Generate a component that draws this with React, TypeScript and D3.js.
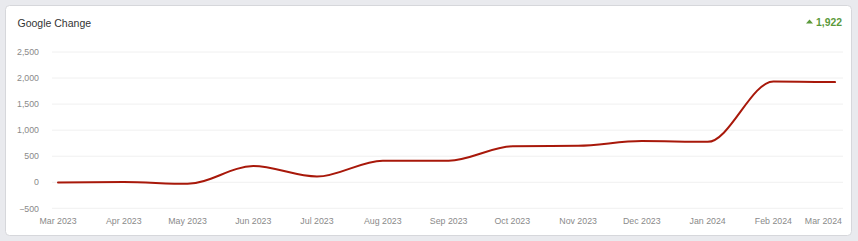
import React from "react";
import * as d3 from "d3";

const months = [
  "2023-03-01", "2023-04-01", "2023-05-01", "2023-06-01", "2023-07-01", "2023-08-01",
  "2023-09-01", "2023-10-01", "2023-11-01", "2023-12-01", "2024-01-01", "2024-02-01", "2024-03-01",
];
const values = [-5, 5, -30, 310, 110, 415, 415, 690, 700, 790, 775, 1935, 1922];
const yTicks = [-500, 0, 500, 1000, 1500, 2000, 2500];
const title = "Google Change";
const changeLabel = "1,922";

const W = 858;
const H = 241;

export default function App() {
  const parse = d3.timeParse("%Y-%m-%d");
  const dates = months.map((m) => parse(m) as Date);
  const data = dates.map((d, i) => ({ d, v: values[i] }));

  const x = d3.scaleTime().domain([dates[0], dates[dates.length - 1]]).range([58, 835]);
  const y = d3.scaleLinear().domain([-500, 2500]).range([208.3, 52]);
  const line = d3
    .line<{ d: Date; v: number }>()
    .x((p) => x(p.d))
    .y((p) => y(p.v))
    .curve(d3.curveMonotoneX);

  const fmtTick = d3.format(",");
  const fmtMonth = d3.timeFormat("%b %Y");
  const font = "Arial, 'Liberation Sans', sans-serif";

  return (
    <svg
      width={W}
      height={H}
      style={{ position: "absolute", left: 0, top: 0, display: "block" }}
      fontFamily={font}
    >
      <rect x={0} y={0} width={W} height={H} fill="#e9eaee" />
      <rect x={5.5} y={5.5} width={846} height={230} rx={4} fill="#ffffff" stroke="#d6d7db" />
      <text x={17.5} y={27} fontSize={10.5} fill="#333333">{title}</text>
      <g>
        <path d="M -3.5 2 L 0 -2 L 3.5 2 Z" transform="translate(809.5,21.5)" fill="#5b9a3c" />
        <text x={842} y={26} fontSize={10.4} fontWeight="bold" fill="#5b9a3c" textAnchor="end">
          {changeLabel}
        </text>
      </g>
      {yTicks.map((t) => (
        <g key={t}>
          <line x1={52} x2={843} y1={y(t)} y2={y(t)} stroke="#f0f0f0" strokeWidth={1} />
          <text x={39} y={y(t) + 3.2} fontSize={8.8} fill="#8a8a8a" textAnchor="end">
            {fmtTick(t)}
          </text>
        </g>
      ))}
      {dates.map((d, i) => {
        const last = i === dates.length - 1;
        return (
          <text
            key={i}
            x={last ? 842 : x(d)}
            y={223.5}
            fontSize={8.8}
            fill="#8a8a8a"
            textAnchor={last ? "end" : "middle"}
          >
            {fmtMonth(d)}
          </text>
        );
      })}
      <path d={line(data) || ""} fill="none" stroke="#a8180a" strokeWidth={2} strokeLinecap="round" />
    </svg>
  );
}
